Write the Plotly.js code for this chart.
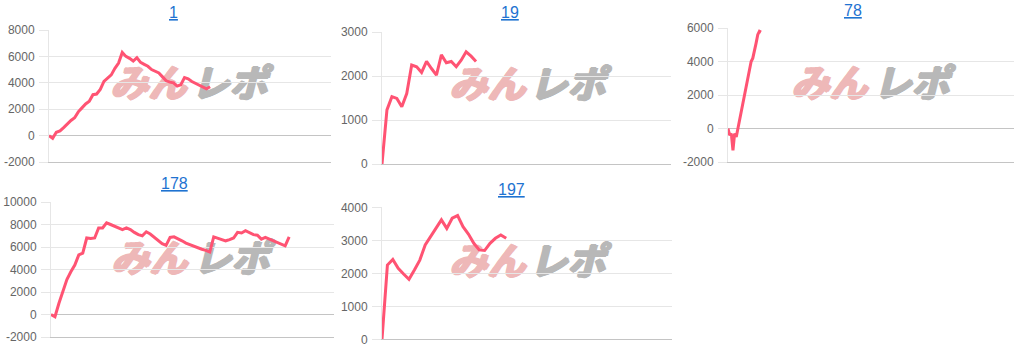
<!DOCTYPE html>
<html>
<head>
<meta charset="utf-8">
<script src="https://cdn.plot.ly/plotly-3.0.1.min.js"></script>
<style>
html,body{margin:0;padding:0;background:#fff;}
#chart{width:1021px;height:349px;}
</style>
</head>
<body>
<div id="chart"></div>
<script>
// ---- data ----
const titles = ["1", "19", "78", "178", "197"];
const series1 = [0, -200, 250, 350, 600, 900, 1150, 1350, 1800, 2100, 2400, 2600, 3100, 3150, 3500, 4100, 4350, 4600, 5100, 5500, 6300, 6000, 5850, 5650, 5900, 5550, 5400, 5250, 5000, 4850, 4750, 4450, 4150, 4050, 4000, 3750, 3850, 4400, 4300, 4100, 3950, 3800, 3650, 3550, 3700];
const series19 = [0, 1230, 1530, 1490, 1300, 1600, 2250, 2210, 2080, 2330, 2170, 2020, 2480, 2300, 2330, 2210, 2360, 2550, 2450, 2330];
const series78 = [0, -400, -300, -1300, -300, -500, 0, 500, 1100, 1600, 2000, 2500, 3000, 3500, 4000, 4200, 4600, 5100, 5600, 5800, 5750];
const series178 = [0, -200, 1000, 2100, 3100, 3800, 4400, 5300, 5450, 6800, 6750, 6800, 7700, 7700, 8150, 8000, 7850, 7700, 7550, 7700, 7550, 7300, 7100, 7000, 7350, 7150, 6850, 6550, 6300, 6150, 6850, 6900, 6750, 6550, 6350, 6200, 6100, 5950, 5800, 5700, 5550, 6900, 6800, 6650, 6550, 6650, 6800, 7300, 7250, 7450, 7300, 7100, 7050, 6700, 6850, 6700, 6550, 6450, 6300, 6100, 6900];
const series197 = [0, 2250, 2420, 2150, 1980, 1820, 2100, 2400, 2860, 3110, 3330, 3620, 3360, 3670, 3750, 3410, 3190, 2910, 2710, 2690, 2910, 3060, 3160, 3060];
const yTicks1 = [-2000, 0, 2000, 4000, 6000, 8000];
const yTicks19 = [0, 1000, 2000, 3000];
const yTicks78 = [-2000, 0, 2000, 4000, 6000];
const yTicks178 = [-2000, 0, 2000, 4000, 6000, 8000, 10000];
const yTicks197 = [0, 1000, 2000, 3000, 4000];
const allSeries = [series1, series19, series78, series178, series197];
const allTicks = [yTicks1, yTicks19, yTicks78, yTicks178, yTicks197];

// ---- layout geometry (pixels) ----
const W = 1021, H = 349;
const panels = [
  {l: 49, r: 331, t: 30, b: 162, xmax: 77, tx: 173, ty: 12, wm: [148, 229, 86]},
  {l: 382, r: 671, t: 32, b: 164, xmax: 58.4, tx: 510, ty: 12, wm: [487, 567, 87]},
  {l: 728, r: 1014, t: 28, b: 162, xmax: 173, tx: 853, ty: 10, wm: [829, 911, 86]},
  {l: 51, r: 334, t: 202, b: 337, xmax: 71.3, tx: 174, ty: 184, wm: [149, 231, 261]},
  {l: 382, r: 672, t: 207.3, b: 339.3, xmax: 53.7, tx: 511, ty: 189, wm: [487, 567, 264]}
];

const LINE = '#ff5373';
const traces = [];
const layout = {
  width: W, height: H,
  margin: {l: 0, r: 0, t: 0, b: 0},
  paper_bgcolor: '#fff', plot_bgcolor: '#fff',
  showlegend: false,
  font: {family: 'Liberation Sans, Arial, sans-serif', color: '#666', size: 12},
  annotations: [], shapes: []
};

panels.forEach((p, i) => {
  const s = allSeries[i];
  const n = i === 0 ? '' : String(i + 1);
  traces.push({
    type: 'scatter', mode: 'lines',
    x: s.map((_, k) => k), y: s,
    xaxis: 'x' + n, yaxis: 'y' + n,
    line: {color: LINE, width: 3},
    hoverinfo: 'skip'
  });
  const ticks = allTicks[i];
  layout['xaxis' + n] = {
    domain: [p.l / W, p.r / W],
    range: [0, p.xmax],
    showgrid: false, zeroline: false, showticklabels: false, ticks: '',
    showline: true, linecolor: '#c4c4c4', linewidth: 1,
    anchor: 'y' + n, fixedrange: true
  };
  layout['yaxis' + n] = {
    domain: [1 - p.b / H, 1 - p.t / H],
    range: [ticks[0], ticks[ticks.length - 1]],
    tickvals: ticks, ticktext: ticks.map(String),
    showgrid: true, gridcolor: '#e6e6e6', gridwidth: 1,
    zeroline: true, zerolinecolor: '#c4c4c4', zerolinewidth: 1,
    showline: true, linecolor: '#e6e6e6', linewidth: 1,
    ticks: 'outside', ticklen: 9, tickcolor: '#e6e6e6', tickwidth: 1,
    ticklabelstandoff: 2,
    tickfont: {family: 'Liberation Sans, Arial, sans-serif', size: 12, color: '#666'},
    anchor: 'x' + n, fixedrange: true
  };
  // title
  layout.annotations.push({
    xref: 'paper', yref: 'paper', x: p.tx / W, y: 1 - p.ty / H,
    xanchor: 'center', yanchor: 'middle', showarrow: false,
    text: titles[i],
    font: {family: 'Liberation Sans, Arial, sans-serif', size: 16, color: '#1f73d1', lineposition: 'under'}
  });
  // watermark (drawn between gridlines and traces)
  const wm = p.wm;
  [['みん', wm[0], 'rgb(238,184,184)'], ['レポ', wm[1], 'rgb(184,184,184)']].forEach(([txt, cx, col]) => {
    layout.shapes.push({
      type: 'rect', layer: 'between', xref: 'paper', yref: 'paper',
      x0: (cx - 42) / W, x1: (cx + 42) / W,
      y0: 1 - (wm[2] + 18) / H, y1: 1 - (wm[2] - 18) / H,
      line: {width: 0}, fillcolor: 'rgba(0,0,0,0)',
      label: {text: txt, textposition: 'middle center',
        font: {family: 'Noto Sans CJK JP', size: 38, color: col, weight: 'bold', style: 'italic',
               shadow: '1px 0 0 ' + col + ', -1px 0 0 ' + col + ', 0 1px 0 ' + col + ', 0 -1px 0 ' + col + ', 2px 0 0 ' + col}}
    });
  });
});

Plotly.newPlot('chart', traces, layout, {staticPlot: true, displayModeBar: false});
</script>
</body>
</html>
